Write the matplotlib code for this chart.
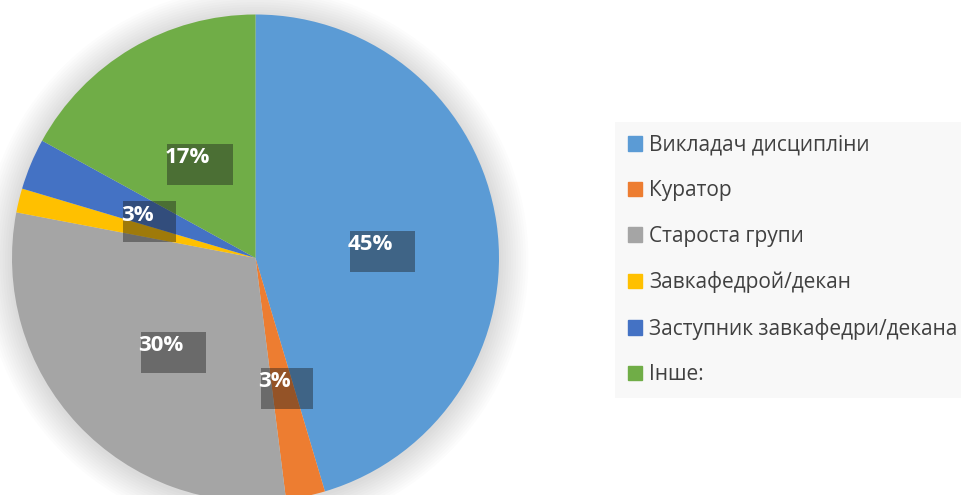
import numpy as np
import matplotlib.pyplot as plt
from matplotlib.patches import Circle
import matplotlib.patheffects as pe

plt.rcParams['font.family'] = ['Open Sans', 'DejaVu Sans']

labels = ['Викладач дисципліни', 'Куратор', 'Староста групи',
          'Завкафедрой/декан', 'Заступник завкафедри/декана', 'Інше:']
values = [45.4, 2.6, 30.0, 1.6, 3.4, 17.0]
colors = ['#5B9BD5', '#ED7D31', '#A5A5A5', '#FFC000', '#4472C4', '#70AD47']
shown = [True, True, True, False, True, True]

fig = plt.figure(figsize=(9.61, 4.95), dpi=100)
ax = fig.add_axes([0, 0, 1, 1])

cx, cy, r = 255.5, 237, 243.5

# soft outer shadow
for k in range(12):
    ax.add_patch(Circle((cx, cy - 2), r + 2 + k * 2.5, color='black',
                        alpha=0.012, lw=0, zorder=0))

wedges, _ = ax.pie(values, colors=colors, startangle=90, counterclock=False,
                   center=(cx, cy), radius=r, frame=True,
                   wedgeprops=dict(linewidth=0))
ax.set_xlim(0, 961)
ax.set_ylim(0, 495)
ax.set_aspect('equal')
ax.axis('off')

ang0 = 90.0
for v, w, s in zip(values, wedges, shown):
    mid = ang0 - v / 100 * 360 / 2
    ang0 -= v / 100 * 360
    if not s:
        continue
    rr = 0.5 * r
    x = cx + rr * np.cos(np.radians(mid)) - 6
    y = cy + rr * np.sin(np.radians(mid)) - 4
    t = ax.text(x, y, f'{round(v):.0f}%', ha='center', va='center',
                fontsize=16, fontweight='bold', color='white', zorder=5,
                bbox=dict(boxstyle='square,pad=0.45', fc='none', ec='none'))
    t.get_bbox_patch().set_path_effects([
        pe.SimplePatchShadow(offset=(9, -5), shadow_rgbFace='#1a1a1a', alpha=0.42)])

handles = [plt.Rectangle((0, 0), 1, 1, color=c) for c in colors]
leg = fig.legend(handles, labels, loc='upper left',
                 bbox_to_anchor=(615 / 961, 1 - 122 / 495),
                 frameon=True, fancybox=False, fontsize=15,
                 handlelength=0.7, handleheight=0.7, handletextpad=0.35,
                 labelspacing=1.18, borderpad=0.6, borderaxespad=0,
                 labelcolor='#404040')
leg.get_frame().set_facecolor('#F8F8F8')
leg.get_frame().set_edgecolor('none')
leg.get_frame().set_alpha(1)

fig.savefig('out.png', dpi=100)
